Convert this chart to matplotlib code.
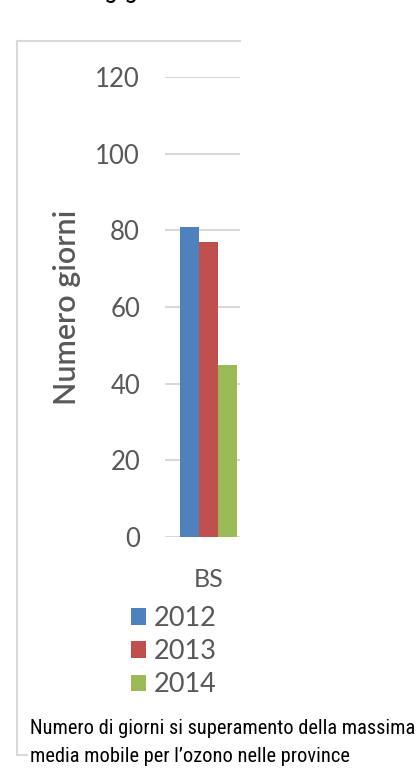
import matplotlib
matplotlib.use("Agg")
from matplotlib import pyplot as plt
from matplotlib import font_manager
from matplotlib.lines import Line2D

# data
provinces = ["BS"]
years = ["2012", "2013", "2014"]
giorni_2012 = [81]
giorni_2013 = [77]
giorni_2014 = [45]
yticks = [0, 20, 40, 60, 80, 100, 120]
caption_lines = ["Numero di giorni si superamento della massima",
                 "media mobile per l\u2019ozono nelle province"]

colors = ["#4F81BD", "#C0504D", "#9BBB59"]
grey_text = "#595959"
grey_line = "#D9D9D9"

installed = {f.name for f in font_manager.fontManager.ttflist}
main_font = "Lato" if "Lato" in installed else "DejaVu Sans"
caption_font = main_font
for name in ["Liberation Sans Narrow", "DejaVu Sans Condensed", "Roboto Condensed"]:
    if name in installed:
        caption_font = name
        break

W, H = 418, 768
fig = plt.figure(figsize=(W / 100, H / 100), dpi=100)
fig.patch.set_facecolor("white")

# plot area in pixels: x 165..240, y 77..537
ax = fig.add_axes([165 / W, 1 - 537 / H, 75 / W, 460 / H])

series = [giorni_2012, giorni_2013, giorni_2014]
bw = 0.253
xs = range(len(provinces))
for i, (vals, lab, col) in enumerate(zip(series, years, colors)):
    ax.bar([x + (i - 1) * bw for x in xs], vals, width=bw, color=col,
           label=lab, zorder=3)

ax.set_ylim(0, 120)
ax.set_xlim(-0.58, 0.42)
ax.set_yticks(yticks)
ax.yaxis.grid(True, color=grey_line, linewidth=1.5, zorder=0)
ax.set_axisbelow(True)
for s in ax.spines.values():
    s.set_visible(False)
ax.tick_params(axis="y", length=0, pad=18, labelsize=18.5, labelcolor=grey_text)
ax.tick_params(axis="x", length=0, pad=22, labelsize=18, labelcolor=grey_text)
ax.set_xticks(list(xs))
ax.set_xticklabels(provinces)
for lbl in ax.get_xticklabels() + ax.get_yticklabels():
    lbl.set_fontfamily(main_font)
ax.set_ylabel("Numero giorni", fontsize=22, color=grey_text,
              fontfamily=main_font, fontweight="semibold", labelpad=10)

leg = fig.legend(loc="upper left", bbox_to_anchor=(131 / W, 1 - 606 / H),
                 frameon=False, prop={"family": main_font, "size": 19.5},
                 handlelength=0.55, handleheight=0.55, handletextpad=0.3,
                 labelspacing=0.3, borderaxespad=0, borderpad=0)
for t in leg.get_texts():
    t.set_color(grey_text)

# outer chart frame (cropped on the right)
frame_kw = dict(color=grey_line, linewidth=1.5, transform=fig.transFigure)
fig.add_artist(Line2D([17 / W, 240 / W], [1 - 41 / H, 1 - 41 / H], **frame_kw))
fig.add_artist(Line2D([17 / W, 17 / W], [1 - 41 / H, 1 - 755 / H], **frame_kw))
fig.add_artist(Line2D([17 / W, 27 / W], [1 - 755 / H, 1 - 755 / H], **frame_kw))

# cut-off title at the very top (only the descenders are visible)
fig.text(104 / W, 1 + 3 / H, "g g", fontsize=20, fontfamily=caption_font,
         va="baseline", ha="left", color="black")

# caption, first line fitted to the reference width (about 386 px)
probe = fig.text(0, 0, caption_lines[0], fontsize=14, fontfamily=caption_font)
fig.canvas.draw()
w = probe.get_window_extent(fig.canvas.get_renderer()).width
probe.remove()
cap_size = 14 * 386 / w
for line, yc in zip(caption_lines, [728, 757]):
    fig.text(30 / W, 1 - yc / H, line, fontsize=cap_size, fontfamily=caption_font,
             va="center", ha="left", color="black",
             bbox=dict(facecolor="white", edgecolor="none", pad=1))

fig.savefig("out.png", dpi=100, facecolor="white")
